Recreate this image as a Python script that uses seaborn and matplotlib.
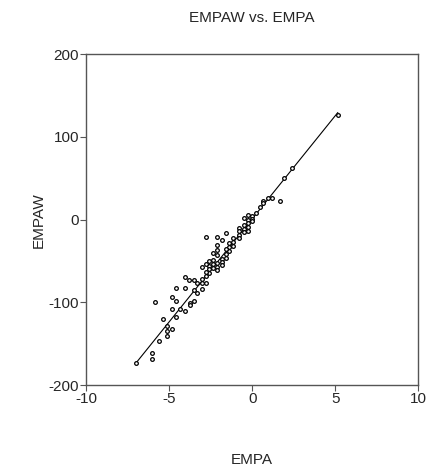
import numpy as np
import pandas as pd
import matplotlib
matplotlib.use('Agg')
import matplotlib.pyplot as plt
import seaborn as sns

# values
empa = [5.16, 2.39, 1.93, 1.65, 1.19, 0.98, 0.68, 0.68, 0.48, 0.24, -0.02, -0.02, -0.02,
        -0.26, -0.26, -0.26, -0.26, -0.26,
        -0.52, -0.52, -0.52, -0.52,
        -0.78, -0.78, -0.78, -0.78,
        -1.13, -1.13, -1.13,
        -1.37, -1.37, -1.37,
        -1.58, -1.58, -1.58, -1.58,
        -1.83, -1.83, -1.83, -1.83,
        -2.09, -2.09, -2.09, -2.09, -2.09, -2.09, -2.09,
        -2.33, -2.33, -2.33, -2.33,
        -2.57, -2.57, -2.57, -2.57,
        -2.79, -2.79, -2.79, -2.79, -2.79,
        -3.03, -3.03, -3.03, -3.03,
        -3.30, -3.30,
        -3.50, -3.50, -3.49,
        -3.78, -3.73, -3.73,
        -4.02, -4.02, -4.02,
        -4.34,
        -4.58, -4.58, -4.58,
        -4.84, -4.84, -4.84,
        -5.10, -5.10, -5.10,
        -5.34, -5.58, -5.84,
        -6.04, -6.04, -7.00]
empaw = [127, 62, 50, 23, 25.6, 25.6, 22.7, 20.3, 15.5, 7.5, 5, 1, -2,
         6, 0, -4, -9, -14,
         2, -6, -11, -15,
         -10, -14, -18, -22,
         -22, -27, -32,
         -28, -33, -38,
         -16, -36, -41, -46,
         -24, -47, -51, -55,
         -21, -31, -37, -43, -52, -57, -61,
         -40, -49, -53, -58,
         -50, -56, -60, -65,
         -21, -54, -63, -68, -76,
         -57, -72, -76, -84,
         -76, -89,
         -73, -85, -98.5,
         -73, -101, -103,
         -69, -83, -110,
         -108,
         -83, -98, -117,
         -93, -108, -132,
         -129, -134, -140,
         -120, -146, -100,
         -161, -168, -173]

# fitted line as shown in the reference (slope / intercept)
fit_slope = 24.9
fit_intercept = 1.0

x_ticks = [-10, -5, 0, 5, 10]
y_ticks = [-200, -100, 0, 100, 200]

df = pd.DataFrame({'EMPA': empa, 'EMPAW': empaw})
fit_x = np.array([min(empa), max(empa)])
fit_df = pd.DataFrame({'EMPA': fit_x, 'EMPAW': fit_slope * fit_x + fit_intercept})

sns.set_style('ticks')
plt.rcParams['font.family'] = ['Liberation Sans', 'DejaVu Sans']
plt.rcParams['axes.unicode_minus'] = False

fig = plt.figure(figsize=(4.37, 4.75), dpi=100)
ax = fig.add_axes([0.197, 0.189, 0.76, 0.697])

sns.lineplot(data=fit_df, x='EMPA', y='EMPAW', ax=ax, color='black', linewidth=0.8)
sns.scatterplot(data=df, x='EMPA', y='EMPAW', ax=ax, s=7, facecolors='white',
                edgecolor='black', linewidth=0.9, zorder=3)

ax.set_xlim(-10, 10)
ax.set_ylim(-200, 200)
ax.set_xticks(x_ticks)
ax.set_yticks(y_ticks)
ax.tick_params(direction='out', length=4, width=0.8, color='#555555', labelsize=11, pad=1)
for sp in ax.spines.values():
    sp.set_visible(True)
    sp.set_color('#555555')
    sp.set_linewidth(1)

ax.set_title('EMPAW vs. EMPA', fontsize=11, pad=23)
ax.set_xlabel('EMPA', fontsize=11, labelpad=34)
ax.set_ylabel('EMPAW', fontsize=11, labelpad=2)

fig.savefig('out.png', dpi=100)
plt.close(fig)
